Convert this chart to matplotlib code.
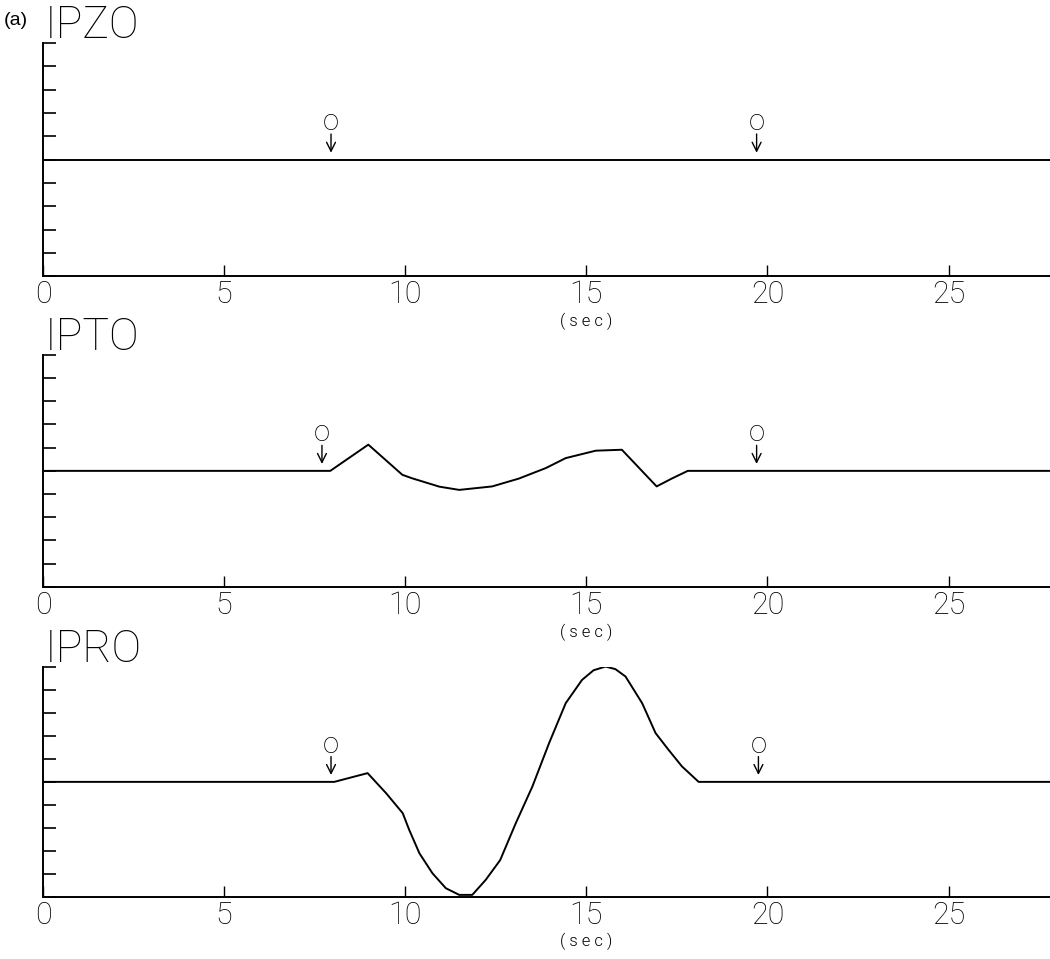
import numpy as np
import matplotlib
matplotlib.use('Agg')
import matplotlib.pyplot as plt

# traces, y in tick units (10 ticks, baseline at 0)
t_pz = [0.0, 10.0, 27.8]
v_pz = [0.0, 0.0, 0.0]

t_pt = [0.0, 7.93, 8.98, 9.92, 10.19, 10.94, 11.49, 12.4, 13.14, 13.88, 14.43,
        15.26, 15.98, 16.94, 17.36, 17.8, 27.8]
v_pt = [0.0, 0.0, 1.13, -0.17, -0.32, -0.68, -0.82, -0.67, -0.33, 0.12, 0.55,
        0.87, 0.91, -0.67, -0.33, 0.0, 0.0]

t_pr = [0.0, 8.04, 8.96, 9.47, 9.93, 10.11, 10.39, 10.75, 11.12, 11.49, 11.85,
        12.22, 12.62, 13.05, 13.51, 13.97, 14.43, 14.88, 15.2, 15.53, 15.8,
        16.08, 16.54, 16.91, 17.27, 17.64, 18.1, 27.8]
v_pr = [0.0, 0.0, 0.38, -0.49, -1.36, -2.09, -3.1, -3.97, -4.62, -4.91, -4.91,
        -4.26, -3.4, -1.8, -0.2, 1.68, 3.42, 4.43, 4.85, 5.01, 4.9,
        4.58, 3.42, 2.12, 1.39, 0.67, 0.0, 0.0]

titles = ['IPZO', 'IPTO', 'IPRO']
marks = [[7.95, 19.7], [7.7, 19.7], [7.95, 19.75]]
xticks = [0, 5, 10, 15, 20, 25]

fig = plt.figure(figsize=(10.5, 9.59), dpi=100)
boxes = [(0.041, 0.712, 0.959, 0.243),
         (0.041, 0.388, 0.959, 0.242),
         (0.041, 0.0647, 0.959, 0.240)]
series = [(t_pz, v_pz), (t_pt, v_pt), (t_pr, v_pr)]

thin = dict(family=['Roboto', 'DejaVu Sans'], fontweight=100)

for i, (box, (t, v)) in enumerate(zip(boxes, series)):
    ax = fig.add_axes(box)
    ax.plot(t, v, color='black', lw=1.4)
    ax.set_xlim(0, 27.8)
    ax.set_ylim(-5, 5)
    ax.spines['top'].set_visible(False)
    ax.spines['right'].set_visible(False)
    ax.spines['left'].set_linewidth(1.4)
    ax.spines['bottom'].set_linewidth(1.4)
    ax.set_yticks(np.arange(-5, 6))
    ax.set_yticklabels([])
    ax.set_xticks(xticks)
    ax.set_xticklabels([str(x) for x in xticks], fontsize=22, **thin)
    ax.tick_params(axis='y', direction='in', length=9, width=1.2)
    ax.tick_params(axis='x', direction='in', length=8, width=1.0, pad=3)
    ax.text(15, -6.95, '( s e c )', ha='center', va='center', fontsize=12,
            family=['Roboto', 'DejaVu Sans'], fontweight=300, clip_on=False)
    ax.text(0.05, 5.2, titles[i], ha='left', va='baseline', fontsize=32,
            clip_on=False, **thin)
    for xm in marks[i]:
        ax.annotate('', xy=(xm, 0.18), xytext=(xm, 1.22),
                    arrowprops=dict(arrowstyle='->', lw=1.0, color='black',
                                    mutation_scale=16))
        ax.text(xm, 1.62, 'o', ha='center', va='center', fontsize=21, **thin)

fig.text(0.004, 0.979, '(a)', ha='left', va='center', fontsize=14,
         family=['Liberation Sans', 'DejaVu Sans'])

fig.savefig('out.png', dpi=100)
